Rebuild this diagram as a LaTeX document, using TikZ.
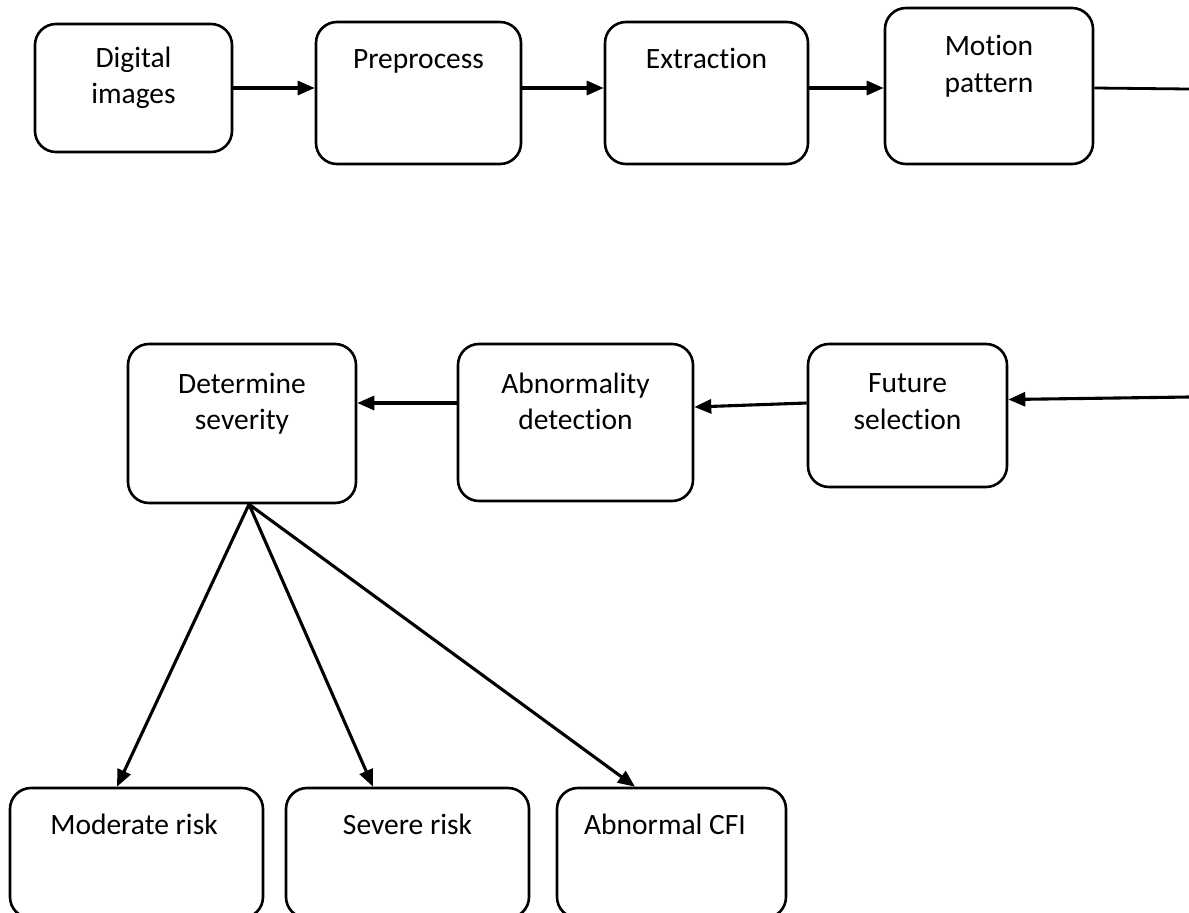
\documentclass[tikz,border=0pt]{standalone}
\usepackage{fontspec}
\setmainfont{Carlito}[Ligatures=NoCommon]
\usetikzlibrary{arrows.meta,calc}
\begin{document}
\begin{tikzpicture}[x=1pt,y=-1pt,
  box/.style={draw,line width=2.6pt,rounded corners=21pt,inner sep=0pt},
  txt/.style={anchor=base,inner sep=0pt,font=\fontsize{29.5}{36}\selectfont},
  arr/.style={line width=3.1pt,-{Triangle[length=17pt,width=14pt]}},
  ln/.style={line width=2.8pt}]
\useasboundingbox[fill=white] (0,0) rectangle (1189,913);
% top row
\node[box,minimum width=197pt,minimum height=128pt] (dig) at (133.5,88) {};
\node[box,minimum width=205pt,minimum height=142pt] (pre) at (418.5,93) {};
\node[box,minimum width=203pt,minimum height=142pt] (ext) at (706.5,93) {};
\node[box,minimum width=208pt,minimum height=156pt] (mot) at (989,86) {};
\node[txt] (digA) at (133.5,67) {Digital};
\node[txt] (digB) at (133.5,103) {images};
\node[txt] (preA) at (418.5,68) {Preprocess};
\node[txt] (extA) at (706.5,68) {Extraction};
\node[txt] (motA) at (989,55) {Motion};
\node[txt] (motB) at (989,92) {pattern};
% middle row
\node[box,minimum width=199pt,minimum height=143pt] (fut) at (907.5,415.5) {};
\node[box,minimum width=235pt,minimum height=157pt] (abn) at (575.5,422.5) {};
\node[box,minimum width=228pt,minimum height=159pt] (det) at (242,423.5) {};
\node[txt] (futA) at (907.5,392) {Future};
\node[txt] (futB) at (907.5,429) {selection};
\node[txt] (abnA) at (575.5,393) {Abnormality};
\node[txt] (abnB) at (575.5,429) {detection};
\node[txt] (detA) at (242,393) {Determine};
\node[txt] (detB) at (242,429) {severity};
% bottom row
\node[box,minimum width=253pt,minimum height=130pt] (mod) at (136.5,853) {};
\node[box,minimum width=243pt,minimum height=130pt] (sev) at (407.5,853) {};
\node[box,minimum width=229pt,minimum height=130pt] (cfi) at (671.5,853) {};
\node[txt] (modA) at (134,834) {Moderate risk};
\node[txt] (sevA) at (407.5,834) {Severe risk};
\node[txt] (cfiA) at (665,834) {Abnormal CFI};
% connectors
\coordinate (r1) at (1189,89);
\coordinate (r2) at (1189,397);
\draw[arr] (dig.east) -- (dig.east -| pre.west);
\draw[arr] (pre.east |- dig.east) -- (dig.east -| ext.west);
\draw[arr] (ext.east |- dig.east) -- (dig.east -| mot.west);
\draw[ln] (mot.east |- dig.east) -- (r1);
\draw[arr] (r2) -- ([yshift=16pt]fut.east);
\draw[arr] ([yshift=12.5pt]fut.west) -- ([yshift=15.5pt]abn.east);
\draw[arr] ([yshift=19.5pt]abn.west) -- ([yshift=19.5pt]abn.west -| det.east);
\coordinate (d0) at ([xshift=7pt]det.south);
\draw[arr] (d0) -- ([xshift=-19.5pt]mod.north);
\draw[arr] (d0) -- ([xshift=-34.5pt]sev.north);
\draw[arr] (d0) -- ([xshift=-36.5pt]cfi.north);
\end{tikzpicture}
\end{document}
